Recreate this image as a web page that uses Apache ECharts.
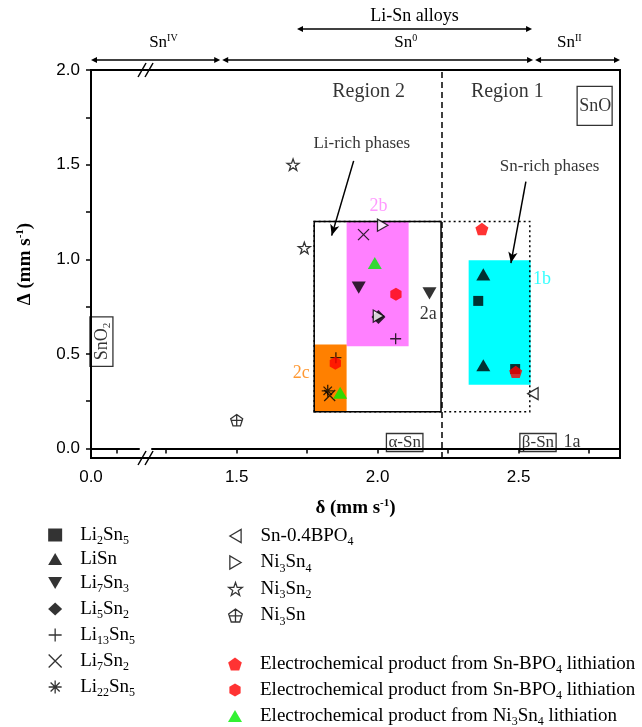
<!DOCTYPE html>
<html>
<head>
<meta charset="utf-8">
<script src="https://cdn.jsdelivr.net/npm/echarts@6/dist/echarts.min.js"></script>
<style>
html, body { margin: 0; padding: 0; background: #fff; }
#main { width: 642px; height: 727px; }
</style>
</head>
<body>
<div id="main"></div>
<script>
// points: [delta, Delta] in mm/s
var li2sn5 = [[2.357, 0.78], [2.488, 0.42]];
var lisn = [[2.375, 0.92], [2.375, 0.44]];
var li7sn3 = [[1.933, 0.85], [2.184, 0.82]];
var li5sn2 = [[2.003, 0.695]];
var li13sn5 = [[2.064, 0.58], [1.852, 0.48]];
var li7sn2 = [[1.95, 1.13], [1.83, 0.28]];
var li22sn5 = [[1.823, 0.305]];
var snBpo = [[2.551, 0.29]];
var ni3sn4 = [[2.018, 1.18], [2.003, 0.70]];
var ni3sn2 = [[1.70, 1.50], [1.74, 1.06]];
var ni3sn = [[1.50, 0.15]];
var echemPent = [[2.37, 1.16], [2.49, 0.405]];
var echemHex = [[2.065, 0.815], [1.85, 0.45]];
var echemNi = [[1.99, 0.98], [1.867, 0.295]];

// axis ticks / labels
var xLabels = [0, 1.5, 2.0, 2.5];
var xTicks = [0, 0.09, 1.25, 1.5, 1.75, 2.0, 2.25, 2.5, 2.75];
var yLabels = [0, 0.5, 1.0, 1.5, 2.0];
var yTicks = [0, 0.25, 0.5, 0.75, 1.0, 1.25, 1.5, 1.75, 2.0];

// shaded regions [x1, y1, x2, y2]
var region2b = [1.89, 0.54, 2.11, 1.20];
var region2c = [1.775, 0.195, 1.89, 0.55];
var region1b = [2.323, 0.337, 2.543, 0.995];
var alphaBox = [1.775, 0.195, 2.225, 1.20];
var dottedBox = [1.775, 0.195, 2.54, 1.20];
var regionDivider = 2.227;

// arrows inside the plot [x1, y1, x2, y2]
var liRichArrow = [1.915, 1.52, 1.837, 1.125];
var snRichArrow = [2.526, 1.41, 2.473, 0.98];

// arrows above the plot
var tierFrom = [0, 1.445, 2.555];
var tierTo = [1.445, 2.555, 2.86];
var tierText = ['Sn{sup|IV}', 'Sn{sup|0}', 'Sn{sup|II}'];
var tierTextX = [1.24, 2.10, 2.68];
var alloyRange = [1.714, 2.548];

var serif = 'Liberation Serif';
var sans = 'Liberation Sans';

var SYM = {
  up: 'path://M5,0L10,8.66L0,8.66Z',
  down: 'path://M0,0L10,0L5,8.66Z',
  left: 'path://M0,5L8.66,0L8.66,10Z',
  right: 'path://M8.66,5L0,0L0,10Z',
  plus: 'path://M5,0L5,10M0,5L10,5',
  cross: 'path://M0,0L10,10M10,0L0,10',
  aster: 'path://M5,0L5,10M0,5L10,5M1.5,1.5L8.5,8.5M8.5,1.5L1.5,8.5',
  star: 'path://M10,0L12.35,6.76L19.51,6.91L13.8,11.24L15.88,18.09L10,14L4.12,18.09L6.2,11.24L0.49,6.91L7.65,6.76Z',
  pent: 'path://M10,0L19.51,6.91L15.88,18.09L4.12,18.09L0.49,6.91Z',
  pentCross: 'path://M10,0L19.51,6.91L15.88,18.09L4.12,18.09L0.49,6.91ZM10,0L10,18.09M1.33,9.5L18.67,9.5',
  hex: 'path://M10,0L18.66,5L18.66,15L10,20L1.34,15L1.34,5Z'
};

var filled = function (c) { return { color: c }; };
var open = { color: '#fff', borderColor: '#000', borderWidth: 1.3 };
var strokeOnly = { color: 'rgba(0,0,0,0)', borderColor: '#000', borderWidth: 1.3 };

function pts(name, data, symbol, size, style) {
  return {
    name: name, type: 'scatter', data: data, symbol: symbol, symbolSize: size,
    symbolKeepAspect: true, itemStyle: style, z: 5, silent: true
  };
}

var legendText = {
  'Li2Sn5': 'Li{s|2}Sn{s|5}',
  'LiSn': 'LiSn',
  'Li7Sn3': 'Li{s|7}Sn{s|3}',
  'Li5Sn2': 'Li{s|5}Sn{s|2}',
  'Li13Sn5': 'Li{s|13}Sn{s|5}',
  'Li7Sn2': 'Li{s|7}Sn{s|2}',
  'Li22Sn5': 'Li{s|22}Sn{s|5}',
  'Sn-0.4BPO4': 'Sn-0.4BPO{s|4}',
  'Ni3Sn4': 'Ni{s|3}Sn{s|4}',
  'Ni3Sn2': 'Ni{s|3}Sn{s|2}',
  'Ni3Sn': 'Ni{s|3}Sn',
  'echemPent': 'Electrochemical product from Sn-BPO{s|4} lithiation',
  'echemHex': 'Electrochemical product from Sn-BPO{s|4} lithiation',
  'echemNi': 'Electrochemical product from Ni{s|3}Sn{s|4} lithiation'
};

var legendRich = {
  s: { fontFamily: serif, fontSize: 12, lineHeight: 20, padding: [12, 0, 0, 0], color: '#000' }
};

function legendBlock(names, left, top, gap) {
  return {
    data: names, orient: 'vertical', left: left, top: top, height: 240, padding: 0,
    itemGap: gap, itemWidth: 14, itemHeight: 13, selectedMode: false,
    itemStyle: { borderWidth: 1.3 },
    formatter: function (n) { return legendText[n]; },
    textStyle: { fontFamily: serif, fontSize: 19, color: '#000', lineHeight: 20, padding: [0, 0, 0, 13], rich: legendRich }
  };
}

function area(b, style) {
  return [{ coord: [b[0], b[1]], itemStyle: style }, { coord: [b[2], b[3]] }];
}
function arrowLine(a) {
  return [{ coord: [a[0], a[1]] }, { coord: [a[2], a[3]] }];
}

var noteRich = {
  sup: { fontFamily: serif, fontSize: 11, padding: [0, 0, 10, 0], color: '#000' },
  sub: { fontFamily: serif, fontSize: 11, padding: [10, 0, 0, 0], color: '#000' }
};
function note(x, y, text, color, size, extra) {
  var label = Object.assign({
    show: true, position: 'inside', formatter: text, color: color,
    fontFamily: serif, fontSize: size, rich: noteRich
  }, extra || {});
  return { value: [x, y], label: label };
}
var boxed = { borderColor: '#000', borderWidth: 1.3, padding: [1, 2, 0, 2] };

var chart = echarts.init(document.getElementById('main'), null, { renderer: 'canvas' });

var option = {
  animation: false,
  backgroundColor: '#fff',
  grid: { left: 91, right: 22, top: 70, bottom: 269, show: true, borderColor: '#000', borderWidth: 2 },
  xAxis: {
    type: 'value', min: 0, max: 2.86,
    breaks: [{ start: 0.17, end: 1.2, gap: '2.5%' }],
    breakArea: { show: false },
    name: '{b|δ (mm s}{sup|-1}{b|)}', nameLocation: 'middle', nameGap: 40,
    nameTextStyle: {
      rich: {
        b: { fontFamily: serif, fontSize: 19, fontWeight: 'bold', color: '#000' },
        sup: { fontFamily: serif, fontSize: 11, fontWeight: 'bold', padding: [0, 0, 10, 0], color: '#000' }
      }
    },
    axisLine: { lineStyle: { color: '#000', width: 2 } },
    axisTick: { customValues: xTicks, length: 5, lineStyle: { width: 1.5, color: '#000' } },
    axisLabel: {
      customValues: xLabels, margin: 11, color: '#000', fontFamily: sans, fontSize: 17,
      formatter: function (v) { return v.toFixed(1); }
    },
    splitLine: { show: false }
  },
  yAxis: {
    type: 'value', min: -0.05, max: 2.0,
    name: '{b|Δ (mm s}{sup|-1}{b|)}', nameLocation: 'middle', nameGap: 55,
    nameTextStyle: {
      rich: {
        b: { fontFamily: serif, fontSize: 19, fontWeight: 'bold', color: '#000' },
        sup: { fontFamily: serif, fontSize: 11, fontWeight: 'bold', padding: [0, 0, 10, 0], color: '#000' }
      }
    },
    axisLine: { lineStyle: { color: '#000', width: 2 } },
    axisTick: { customValues: yTicks, length: 5, lineStyle: { width: 1.5, color: '#000' } },
    axisLabel: {
      customValues: yLabels, margin: 11, color: '#000', fontFamily: sans, fontSize: 17,
      formatter: function (v) { return v.toFixed(1); }
    },
    splitLine: { show: false }
  },
  legend: [
    legendBlock(['Li2Sn5', 'LiSn', 'Li7Sn3', 'Li5Sn2', 'Li13Sn5', 'Li7Sn2', 'Li22Sn5'], 48, 523, 2),
    legendBlock(['Sn-0.4BPO4', 'Ni3Sn4', 'Ni3Sn2', 'Ni3Sn'], 228, 524, 2.5),
    legendBlock(['echemPent', 'echemHex', 'echemNi'], 228, 652, 2)
  ],
  series: [
    {
      name: 'fills', type: 'scatter', data: [], z: 1, silent: true,
      markArea: {
        silent: true,
        data: [
          area(region2b, { color: '#ff80ff' }),
          area(region2c, { color: '#ff8000' }),
          area(region1b, { color: '#00ffff' })
        ]
      }
    },
    {
      name: 'frames', type: 'scatter', data: [], z: 2, silent: true,
      markArea: {
        silent: true,
        data: [
          area(dottedBox, { color: 'rgba(0,0,0,0)', borderColor: '#000', borderWidth: 1.5, borderType: [2, 3] }),
          area(alphaBox, { color: 'rgba(0,0,0,0)', borderColor: '#000', borderWidth: 1.5 })
        ]
      },
      markLine: {
        silent: true, symbol: ['none', 'arrow'], symbolSize: [7, 11],
        label: { show: false },
        lineStyle: { color: '#000', width: 1.5, type: 'solid' },
        data: [
          [
            { coord: [regionDivider, -0.05], symbol: 'none', lineStyle: { type: [6, 4], width: 1.5, color: '#000' } },
            { coord: [regionDivider, 2.0], symbol: 'none' }
          ],
          arrowLine(liRichArrow),
          arrowLine(snRichArrow)
        ]
      }
    },
    {
      name: 'notes', type: 'scatter', symbolSize: 1, z: 3, silent: true,
      itemStyle: { color: 'rgba(0,0,0,0)' },
      data: [
        note(1.968, 1.886, 'Region 2', '#000', 20),
        note(2.46, 1.886, 'Region 1', '#000', 20),
        note(1.944, 1.61, 'Li-rich phases', '#000', 17),
        note(2.61, 1.49, 'Sn-rich phases', '#000', 17),
        note(2.003, 1.28, '2b', '#ff80ff', 18),
        note(2.18, 0.71, '2a', '#000', 18),
        note(1.729, 0.40, '2c', '#ff8000', 18),
        note(2.583, 0.893, '1b', '#00ffff', 18),
        note(2.69, 0.032, '1a', '#000', 18),
        note(2.096, 0.032, 'α-Sn', '#000', 17, boxed),
        note(2.569, 0.032, 'β-Sn', '#000', 17, boxed),
        note(2.77, 1.81, 'SnO', '#000', 18, { borderColor: '#000', borderWidth: 1.3, padding: [11, 1, 10, 2] }),
        note(0.037, 0.565, 'SnO{sub|2}', '#000', 18, { rotate: 90, borderColor: '#000', borderWidth: 1.3, padding: [2, 6, 0, 6] })
      ]
    },
    pts('Li2Sn5', li2sn5, 'rect', 10, filled('#000')),
    pts('LiSn', lisn, SYM.up, 14, filled('#000')),
    pts('Li7Sn3', li7sn3, SYM.down, 14, filled('#000')),
    pts('Li5Sn2', li5sn2, 'diamond', 14, filled('#000')),
    pts('Li13Sn5', li13sn5, SYM.plus, 11, strokeOnly),
    pts('Li7Sn2', li7sn2, SYM.cross, 11, strokeOnly),
    pts('Li22Sn5', li22sn5, SYM.aster, 12, strokeOnly),
    pts('Sn-0.4BPO4', snBpo, SYM.left, 12, open),
    pts('Ni3Sn4', ni3sn4, SYM.right, 12, open),
    pts('Ni3Sn2', ni3sn2, SYM.star, 12, open),
    pts('Ni3Sn', ni3sn, SYM.pentCross, 12, open),
    pts('echemPent', echemPent, SYM.pent, 13, filled('#ff0000')),
    pts('echemHex', echemHex, SYM.hex, 13, filled('#ff0000')),
    pts('echemNi', echemNi, SYM.up, 14, filled('#00ee00'))
  ]
};

chart.setOption(option);

// decorations outside the grid: composition arrows and the axis-break marks
function px(v) { return chart.convertToPixel({ xAxisIndex: 0 }, v); }
var gTop = chart.convertToPixel({ yAxisIndex: 0 }, 2.0);
var gBottom = chart.convertToPixel({ yAxisIndex: 0 }, -0.05);

function dblArrow(x1, x2, y) {
  var h = 6, w = 3;
  return [
    { type: 'line', shape: { x1: x1 + 2, y1: y, x2: x2 - 2, y2: y }, style: { stroke: '#000', lineWidth: 1.3 } },
    { type: 'polygon', shape: { points: [[x1, y], [x1 + h, y - w], [x1 + h, y + w]] }, style: { fill: '#000' } },
    { type: 'polygon', shape: { points: [[x2, y], [x2 - h, y - w], [x2 - h, y + w]] }, style: { fill: '#000' } }
  ];
}
function label(x, y, text, size) {
  return {
    type: 'text', x: x, y: y,
    style: {
      text: text, x: 0, y: 0, align: 'center', verticalAlign: 'middle',
      fill: '#000', font: size + 'px "' + serif + '"',
      rich: { sup: { fontFamily: serif, fontSize: 10, padding: [0, 0, 10, 0], fill: '#000' } }
    }
  };
}

var deco = [];
for (var i = 0; i < tierFrom.length; i++) {
  var a = px(tierFrom[i]) + (i > 0 ? 1 : 0), b = px(tierTo[i]) - (i < tierFrom.length - 1 ? 1 : 0);
  deco = deco.concat(dblArrow(a, b, gTop - 10));
  deco.push(label(px(tierTextX[i]), gTop - 27, tierText[i], 17));
}
deco = deco.concat(dblArrow(px(alloyRange[0]), px(alloyRange[1]), gTop - 41));
deco.push(label((px(alloyRange[0]) + px(alloyRange[1])) / 2, gTop - 54, 'Li-Sn alloys', 18));

// keep the bottom axis line continuous across the break, then the // marks
var b0 = px(0.17), b1 = px(1.2), bc = (b0 + b1) / 2;
deco.push({ type: 'line', shape: { x1: b0 - 1, y1: gBottom, x2: b1 + 1, y2: gBottom }, style: { stroke: '#000', lineWidth: 2 }, z: 9 });
[gTop, gBottom].forEach(function (y) {
  [-3.5, 3.5].forEach(function (d) {
    deco.push({ type: 'line', shape: { x1: bc + d - 4, y1: y + 7, x2: bc + d + 4, y2: y - 7 }, style: { stroke: '#000', lineWidth: 1.5 }, z: 10 });
  });
});

chart.setOption({ graphic: deco });
</script>
</body>
</html>
